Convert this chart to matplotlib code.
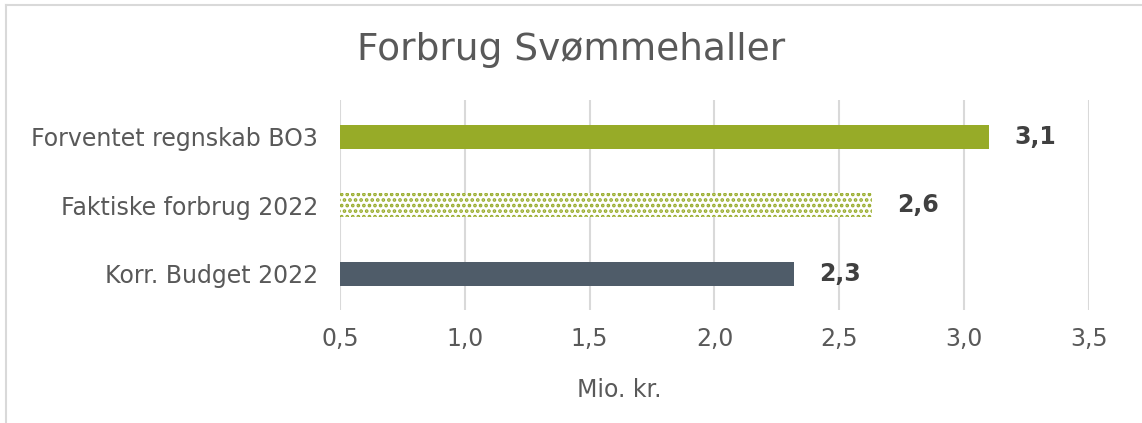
import matplotlib
matplotlib.use("Agg")
import matplotlib.pyplot as plt
from matplotlib.lines import Line2D

categories = ["Korr. Budget 2022", "Faktiske forbrug 2022", "Forventet regnskab BO3"]
values = [2.32, 2.63, 3.1]
value_labels = ["2,3", "2,6", "3,1"]
xticks = [0.5, 1.0, 1.5, 2.0, 2.5, 3.0, 3.5]
xticklabels = ["0,5", "1,0", "1,5", "2,0", "2,5", "3,0", "3,5"]

GREEN = "#97ab28"
DARK = "#4f5c69"
TXT = "#595959"

plt.rcParams["font.family"] = ["DejaVu Sans"]
plt.rcParams["hatch.linewidth"] = 1.8

fig = plt.figure(figsize=(11.42, 4.23), dpi=100)
ax = fig.add_axes([0.2977, 0.267, 0.6559, 0.4966])

ys = list(range(len(categories)))
base = 0.5
ax.barh(0, values[0] - base, height=0.35, left=base, color=DARK)
ax.barh(1, values[1] - base, height=0.35, left=base, color="white",
        edgecolor=GREEN, hatch="...", linewidth=0)
ax.barh(2, values[2] - base, height=0.35, left=base, color=GREEN)

for y, v, lab in zip(ys, values, value_labels):
    ax.text(v + 0.1, y, lab, va="center", ha="left", fontsize=17,
            fontweight="bold", color="#404040")

ax.set_xlim(0.5, 3.5)
ax.set_ylim(-0.53, 2.54)
ax.set_xticks(xticks)
ax.set_xticklabels(xticklabels, fontsize=17, color=TXT)
ax.set_yticks(ys)
ax.set_yticklabels(categories, fontsize=17, color=TXT)
ax.tick_params(length=0, pad=12, axis="x")
ax.tick_params(length=0, pad=16, axis="y")
ax.grid(axis="x", color="#d9d9d9", lw=1.5)
ax.set_axisbelow(True)
for s in ax.spines.values():
    s.set_visible(False)
ax.set_xlabel("Mio. kr.", fontsize=17, color=TXT)
ax.xaxis.set_label_coords(0.3725, -0.325)

fig.text(0.5, 0.882, "Forbrug Svømmehaller", ha="center", va="center",
         fontsize=27, color=TXT)

# chart frame (top and left edges visible)
fig.add_artist(Line2D([6 / 1142, 1], [1 - 5 / 423, 1 - 5 / 423],
                      transform=fig.transFigure, color="#d9d9d9", lw=1.5))
fig.add_artist(Line2D([6 / 1142, 6 / 1142], [0, 1 - 5 / 423],
                      transform=fig.transFigure, color="#d9d9d9", lw=1.5))

fig.savefig("out.png", dpi=100)
